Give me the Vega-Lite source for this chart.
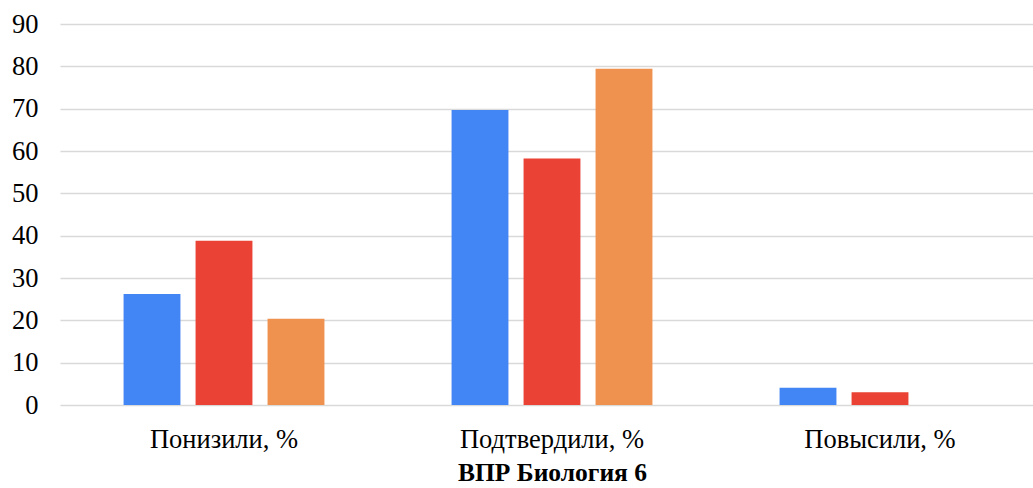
{
  "$schema": "https://vega.github.io/schema/vega-lite/v6.json",
  "width": 984,
  "height": 381,
  "autosize": {"type": "none"},
  "padding": {"left": 60, "top": 24, "right": 0, "bottom": 83},
  "background": "white",
  "data": {
    "values": [
      {"cat": "Понизили, %", "series": "Ряд 1", "value": 26.2},
      {"cat": "Понизили, %", "series": "Ряд 2", "value": 38.8},
      {"cat": "Понизили, %", "series": "Ряд 3", "value": 20.4},
      {"cat": "Подтвердили, %", "series": "Ряд 1", "value": 69.7},
      {"cat": "Подтвердили, %", "series": "Ряд 2", "value": 58.2},
      {"cat": "Подтвердили, %", "series": "Ряд 3", "value": 79.4},
      {"cat": "Повысили, %", "series": "Ряд 1", "value": 4.1},
      {"cat": "Повысили, %", "series": "Ряд 2", "value": 3.0},
      {"cat": "Повысили, %", "series": "Ряд 3", "value": 0}
    ]
  },
  "mark": {"type": "bar"},
  "encoding": {
    "x": {
      "field": "cat",
      "type": "nominal",
      "sort": null,
      "scale": {"paddingInner": 0, "paddingOuter": 0},
      "axis": {
        "title": "ВПР Биология 6",
        "titleFont": "Liberation Serif",
        "titleFontSize": 25.5,
        "titleFontWeight": "bold",
        "titleColor": "#000000",
        "titlePadding": 8,
        "labelFont": "Liberation Serif",
        "labelFontSize": 26.5,
        "labelColor": "#000000",
        "labelAngle": 0,
        "labelPadding": 21,
        "labelLimit": 0,
        "ticks": false,
        "domain": false,
        "grid": false
      }
    },
    "xOffset": {
      "field": "series",
      "type": "nominal",
      "scale": {"paddingInner": 0.21, "paddingOuter": 0.883}
    },
    "y": {
      "field": "value",
      "type": "quantitative",
      "scale": {"domain": [0, 90], "nice": false},
      "axis": {
        "title": null,
        "values": [0, 10, 20, 30, 40, 50, 60, 70, 80, 90],
        "labelFont": "Liberation Serif",
        "labelFontSize": 26.5,
        "labelColor": "#000000",
        "labelPadding": 22,
        "ticks": false,
        "domain": false,
        "grid": true,
        "gridColor": "#d9d9d9",
        "gridWidth": 1.5
      }
    },
    "color": {
      "field": "series",
      "type": "nominal",
      "scale": {"range": ["#4285f4", "#ea4335", "#ef914f"]},
      "legend": null
    }
  },
  "config": {"view": {"stroke": null}}
}
